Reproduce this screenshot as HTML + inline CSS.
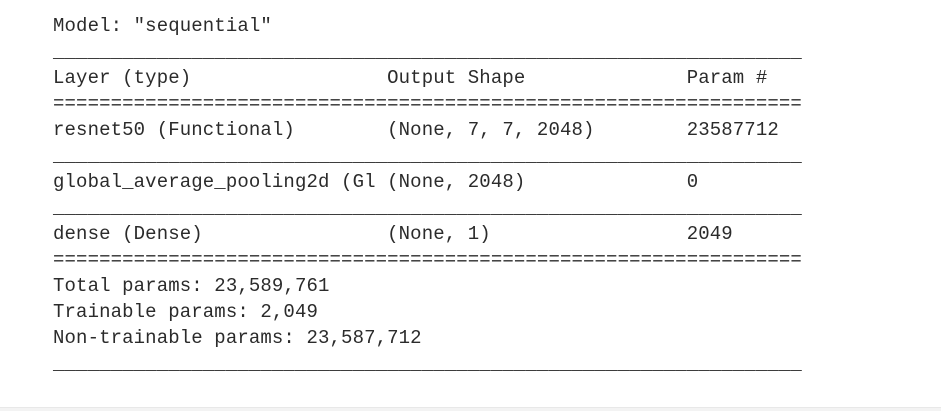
<!DOCTYPE html>
<html><head><meta charset="utf-8">
<style>
html,body{margin:0;padding:0;background:#fff;}
body{width:941px;height:410px;position:relative;overflow:hidden;}
pre{position:absolute;left:53px;top:13px;margin:0;font-family:"Liberation Mono",monospace;font-size:19px;letter-spacing:0.12px;line-height:26px;color:#2b2b2b;}
.bottom{position:absolute;left:0;top:407px;width:941px;height:3px;background:#f3f3f3;border-top:1px solid #e8e8e8;}
</style></head>
<body>
<pre>Model: "sequential"
_________________________________________________________________
Layer (type)                 Output Shape              Param #
=================================================================
resnet50 (Functional)        (None, 7, 7, 2048)        23587712
_________________________________________________________________
global_average_pooling2d (Gl (None, 2048)              0
_________________________________________________________________
dense (Dense)                (None, 1)                 2049
=================================================================
Total params: 23,589,761
Trainable params: 2,049
Non-trainable params: 23,587,712
_________________________________________________________________</pre>
<div class="bottom"></div>
</body></html>
